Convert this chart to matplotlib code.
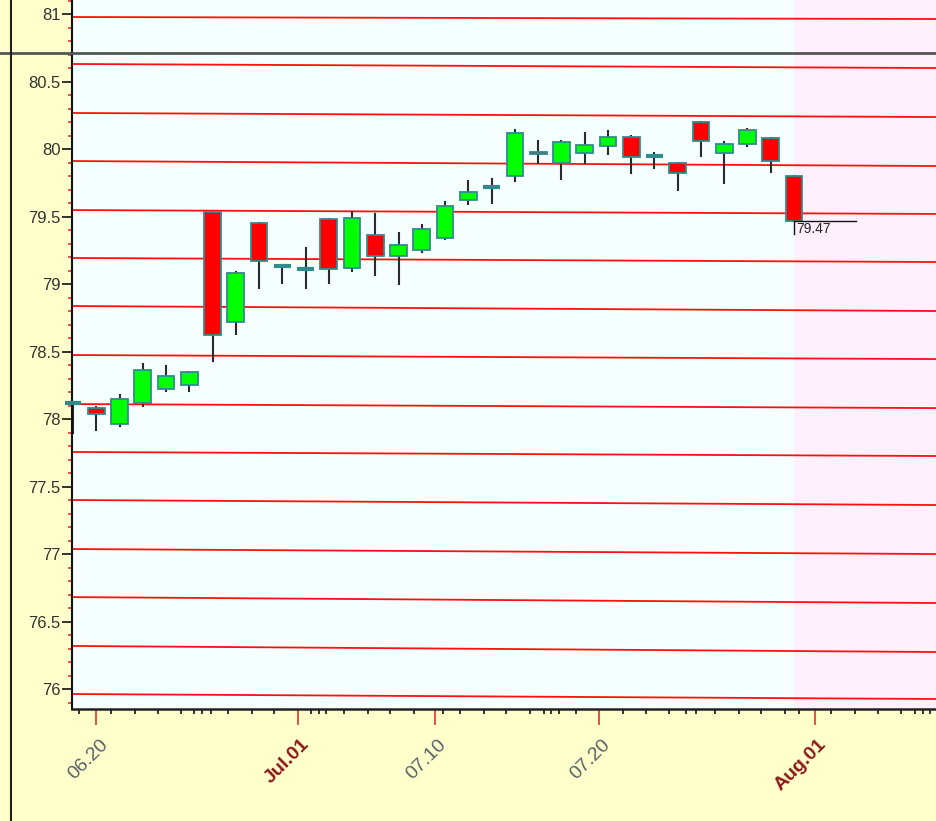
import matplotlib
matplotlib.use("Agg")
import matplotlib.pyplot as plt
from matplotlib.patches import Rectangle
from matplotlib.lines import Line2D
import matplotlib.transforms as mtransforms

# ---------------- data ----------------
opens  = [78.12, 78.08, 77.96, 78.12, 78.22, 78.25, 79.53, 78.72, 79.45, 79.13,
          79.11, 79.48, 79.12, 79.36, 79.21, 79.25, 79.34, 79.62, 79.72, 79.80,
          79.98, 79.90, 79.97, 80.02, 80.09, 79.95, 79.90, 80.20, 79.97, 80.04,
          80.08, 79.80]
highs  = [78.12, 78.09, 78.18, 78.41, 78.39, 78.35, 79.53, 79.09, 79.45, 79.14,
          79.27, 79.48, 79.53, 79.52, 79.38, 79.44, 79.61, 79.76, 79.78, 80.14,
          80.06, 80.06, 80.12, 80.13, 80.10, 79.97, 79.90, 80.20, 80.05, 80.15,
          80.08, 79.80]
lows   = [77.90, 77.92, 77.95, 78.10, 78.21, 78.21, 78.43, 78.63, 78.97, 79.01,
          78.97, 79.01, 79.10, 79.07, 79.00, 79.24, 79.33, 79.59, 79.60, 79.76,
          79.90, 79.78, 79.90, 79.96, 79.82, 79.86, 79.70, 79.95, 79.75, 80.02,
          79.83, 79.47]
closes = [78.12, 78.04, 78.15, 78.36, 78.32, 78.35, 78.62, 79.08, 79.17, 79.13,
          79.11, 79.11, 79.49, 79.21, 79.29, 79.41, 79.58, 79.68, 79.72, 80.12,
          79.96, 80.05, 80.03, 80.09, 79.94, 79.95, 79.82, 80.06, 80.04, 80.14,
          79.91, 79.47]

# sloping red channel lines: value at left edge, value at right edge
channel_left  = [80.978, 80.630, 80.267, 79.911, 79.548, 79.193, 78.837, 78.474,
                 78.111, 77.756, 77.400, 77.037, 76.681, 76.319, 75.963]
channel_right = [80.963, 80.600, 80.237, 79.874, 79.519, 79.163, 78.800, 78.444,
                 78.081, 77.726, 77.363, 77.000, 76.637, 76.274, 75.926]

major_tick_pos = [1.0, 9.66, 15.56, 22.6, 31.9]
major_tick_labels = ["06.20", "Jul.01", "07.10", "07.20", "Aug.01"]
major_tick_bold = [False, True, False, False, True]
minor_tick_pos = [0.26, 1.63, 2.67, 3.65, 4.64, 5.20, 5.55, 5.93, 6.66, 7.70, 8.64,
                  10.23, 10.58, 10.88, 11.65, 12.68, 13.63, 14.66, 15.91, 16.64,
                  17.67, 18.62, 19.65, 20.25, 20.55, 20.89, 21.62, 23.65, 24.63,
                  25.62, 26.35, 26.78, 27.60, 28.63, 29.58, 30.61, 31.21, 32.59,
                  33.62, 34.61, 35.60, 36.20, 36.54, 36.84]

crosshair_value = 80.71
last_value = 79.47
last_label = "79.47"
future_start = 31

# ---------------- figure ----------------
W, H, DPI = 937, 821, 100
fig = plt.figure(figsize=(W / DPI, H / DPI), dpi=DPI, facecolor="#FFFFCC")
ax = fig.add_axes([72 / W, (821 - 709) / H, 1 - 72 / W, 709 / H])
ax.set_facecolor("#F5FFFF")

xmin, xmax = -0.043, 37.15
ymin, ymax = 75.852, 81.104
ax.set_xlim(xmin, xmax)
ax.set_ylim(ymin, ymax)

# future shaded zone
ax.axvspan(future_start, xmax, color="#FFF0FD", zorder=0, lw=0)

# red channel lines
for l, r in zip(channel_left, channel_right):
    ax.plot([xmin, xmax], [l, r], color="#FF1010", lw=1.3, zorder=1, solid_capstyle="butt")

# candles
bw = 0.72
teal = "#2F8C8C"
for i, (o, h, lo, c) in enumerate(zip(opens, highs, lows, closes)):
    ax.plot([i, i], [lo, h], color="#2A2A2A", lw=1.5, zorder=2, clip_on=False)
    top, bot = max(o, c), min(o, c)
    if top - bot < 0.012:
        ax.plot([i - bw / 2, i + bw / 2], [o, o], color=teal, lw=3.0, zorder=3,
                solid_capstyle="butt", clip_on=False)
    else:
        col = "#00FF00" if c > o else "#FF0000"
        ax.add_patch(Rectangle((i - bw / 2, bot), bw, top - bot, facecolor=col,
                               edgecolor=teal, lw=1.3, zorder=3))

# last value marker
ax.plot([future_start, 33.66], [last_value, last_value], color="#111111", lw=1.0, zorder=4)
ax.plot([future_start, future_start], [last_value, last_value - 0.1], color="#111111", lw=1.0, zorder=4)
ax.text(future_start + 0.08, last_value - 0.012, last_label, fontsize=10,
        family="Liberation Sans", color="#222222", va="top", ha="left", zorder=5)

# spines
for s in ("top", "right"):
    ax.spines[s].set_visible(False)
ax.spines["left"].set_color("#111111")
ax.spines["left"].set_linewidth(1.5)
ax.spines["bottom"].set_color("#222222")
ax.spines["bottom"].set_linewidth(1.8)

# y ticks
yt = [76 + 0.5 * k for k in range(11)]
ax.set_yticks(yt)
ax.set_yticklabels([("%g" % v) for v in yt])
ax.set_yticks([round(75.9 + 0.1 * k, 2) for k in range(53)], minor=True)
ax.tick_params(axis="y", which="major", length=7.2, width=1.2, color="#111111",
               pad=1, labelsize=12, labelcolor="#333333")
ax.tick_params(axis="y", which="minor", length=3, width=1.2, color="#E83030")
for t in ax.get_yticklabels():
    t.set_family("Liberation Sans")

# x ticks
ax.set_xticks(major_tick_pos)
ax.set_xticklabels([""] * len(major_tick_pos))
ax.set_xticks(minor_tick_pos, minor=True)
ax.tick_params(axis="x", which="major", length=11.5, width=1.2, color="#E83030")
ax.tick_params(axis="x", which="minor", length=3.6, width=1.2, color="#111111")

base = mtransforms.blended_transform_factory(ax.transData, ax.transAxes)
for pos, lab, bold in zip(major_tick_pos, major_tick_labels, major_tick_bold):
    tr = mtransforms.offset_copy(base, fig=fig, x=9, y=-33, units="dots")
    ax.text(pos, 0, lab, transform=tr, rotation=45, rotation_mode="anchor",
            ha="right", va="center", fontsize=14, family="Liberation Sans",
            fontweight="bold" if bold else "normal",
            color="#8B1A1A" if bold else "#59606A", clip_on=False)

# crosshair lines
hb = mtransforms.blended_transform_factory(fig.transFigure, ax.transData)
fig.add_artist(Line2D([0, 1], [crosshair_value, crosshair_value], transform=hb,
                      color="#555555", lw=2.0))
fig.add_artist(Line2D([11 / W, 11 / W], [0, 1], transform=fig.transFigure,
                      color="#222222", lw=1.5))

fig.savefig("out.png", dpi=DPI, facecolor=fig.get_facecolor())
